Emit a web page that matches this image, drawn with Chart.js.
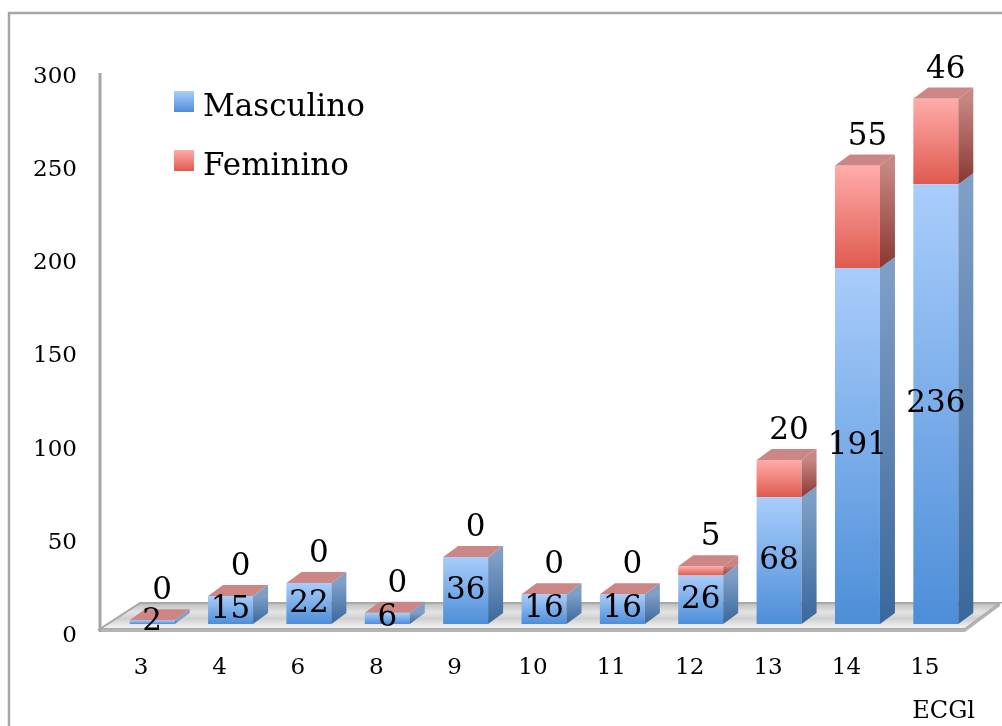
<!DOCTYPE html>
<html>
<head>
<meta charset="utf-8">
<script src="https://cdn.jsdelivr.net/npm/chart.js@4/dist/chart.umd.min.js"></script>
<style>
  html, body { margin: 0; padding: 0; background: #fff; }
  #wrap { width: 1002px; height: 726px; position: relative; }
</style>
</head>
<body>
<div id="wrap"><canvas id="c" width="1002" height="726"></canvas></div>
<script>
// ECGl score categories and counts per sex
const categories = ['3', '4', '6', '8', '9', '10', '11', '12', '13', '14', '15'];
const masculino  = [2, 15, 22, 6, 36, 16, 16, 26, 68, 191, 236];
const feminino   = [0, 0, 0, 0, 0, 0, 0, 5, 20, 55, 46];
const yTicks     = [0, 50, 100, 150, 200, 250, 300];

const SERIF = "'DejaVu Serif', serif";
const DEPTH_X = 15, DEPTH_Y = -11;

const palette = {
  blue: { front: ['#a9cdfb', '#4d8ed8'], side: ['#7f9fc6', '#3a679c'] },
  red:  { front: ['#ffacab', '#df5a4e'], side: ['#c78682', '#8a3732'], top: '#cd8686' }
};

// Vertical gradient for one stacked segment, computed from the value scale
function frontFill(ctx, colors) {
  const chart = ctx.chart;
  const y = chart.scales && chart.scales.y;
  if (!chart.chartArea || !y || ctx.dataIndex === undefined) return colors[1];
  const sets = chart.data.datasets;
  let lo = 0;
  for (let k = 0; k < ctx.datasetIndex; k++) lo += sets[k].data[ctx.dataIndex];
  const hi = lo + sets[ctx.datasetIndex].data[ctx.dataIndex];
  const top = y.getPixelForValue(hi), bot = y.getPixelForValue(lo);
  if (bot - top < 1) return colors[1];
  const g = chart.ctx.createLinearGradient(0, top, 0, bot);
  g.addColorStop(0, colors[0]);
  g.addColorStop(1, colors[1]);
  return g;
}

// Frame, floor and value axis line behind the bars
const backdrop = {
  id: 'backdrop',
  beforeDraw(chart) {
    const c = chart.ctx;
    c.save();
    c.fillStyle = '#fff';
    c.fillRect(0, 0, chart.width, chart.height);
    c.strokeStyle = '#a6a6a6';
    c.lineWidth = 2.5;
    c.strokeRect(9, 13, 1010, 730);
    c.restore();
  },
  beforeDatasetsDraw(chart) {
    const c = chart.ctx, a = chart.chartArea;
    const y0 = chart.scales.y.getPixelForValue(0);
    const fl = a.left - 13, fr = a.right - 10, bl = a.left + 27, br = a.right + 25;
    const fy = y0 + 5, by = y0 - 21;
    c.save();
    // floor top surface
    const g = c.createLinearGradient(0, by, 0, fy);
    g.addColorStop(0, '#bcbcbc');
    g.addColorStop(0.35, '#e4e4e4');
    g.addColorStop(0.6, '#cfcfcf');
    g.addColorStop(1, '#f7f7f7');
    c.beginPath();
    c.moveTo(fl, fy); c.lineTo(fr, fy); c.lineTo(br, by); c.lineTo(bl, by); c.closePath();
    c.fillStyle = g; c.fill();
    c.strokeStyle = '#a8a8a8'; c.lineWidth = 2; c.stroke();
    // floor front edge
    c.beginPath();
    c.moveTo(fl, fy); c.lineTo(fr, fy); c.lineTo(br, by); c.lineTo(br, by + 3); c.lineTo(fr, fy + 3); c.lineTo(fl, fy + 3); c.closePath();
    c.fillStyle = '#b4b4b4'; c.fill();
    // value axis line
    c.beginPath();
    c.moveTo(fl, a.top + 8); c.lineTo(fl, fy + 3);
    c.strokeStyle = '#a6a6a6'; c.lineWidth = 3; c.stroke();
    c.restore();
  }
};

// Side and top faces of each bar, then the value labels
const depthFaces = {
  id: 'depthFaces',
  afterDatasetsDraw(chart) {
    const c = chart.ctx;
    const metas = [chart.getDatasetMeta(0), chart.getDatasetMeta(1)];
    const sides = [palette.blue.side, palette.red.side];
    c.save();
    metas.forEach((meta, di) => {
      meta.data.forEach(bar => {
        const p = bar.getProps(['x', 'y', 'base', 'width'], true);
        const right = p.x + p.width / 2, left = p.x - p.width / 2;
        if (p.base - p.y > 0.5) {
          const g = c.createLinearGradient(0, p.y, 0, p.base);
          g.addColorStop(0, sides[di][0]);
          g.addColorStop(1, sides[di][1]);
          c.beginPath();
          c.moveTo(right, p.y); c.lineTo(right + DEPTH_X, p.y + DEPTH_Y);
          c.lineTo(right + DEPTH_X, p.base + DEPTH_Y); c.lineTo(right, p.base);
          c.closePath(); c.fillStyle = g; c.fill();
        }
        if (di === 1) {
          c.beginPath();
          c.moveTo(left, p.y); c.lineTo(right, p.y);
          c.lineTo(right + DEPTH_X, p.y + DEPTH_Y); c.lineTo(left + DEPTH_X, p.y + DEPTH_Y);
          c.closePath(); c.fillStyle = palette.red.top; c.fill();
        }
      });
    });
    // value labels
    c.fillStyle = '#000';
    c.font = '31px ' + SERIF;
    c.textAlign = 'center';
    c.textBaseline = 'middle';
    metas[0].data.forEach((bar, i) => {
      const p = bar.getProps(['x', 'y', 'base'], true);
      c.fillText(String(masculino[i]), p.x, (p.y + p.base) / 2);
    });
    metas[1].data.forEach((bar, i) => {
      const p = bar.getProps(['x', 'y'], true);
      c.fillText(String(feminino[i]), p.x + 10, p.y - 29);
    });
    c.restore();
  }
};

// Legend drawn inside the plot, upper left
const insideLegend = {
  id: 'insideLegend',
  afterDraw(chart) {
    const c = chart.ctx;
    const items = [[chart.data.datasets[0].label, palette.blue.front], [chart.data.datasets[1].label, palette.red.front]];
    c.save();
    items.forEach(([label, cols], k) => {
      const top = 91 + k * 59;
      const g = c.createLinearGradient(0, top, 0, top + 21);
      g.addColorStop(0, cols[0]); g.addColorStop(1, cols[1]);
      c.fillStyle = g;
      c.fillRect(174, top, 20, 21);
      c.fillStyle = '#000';
      c.font = '31px ' + SERIF;
      c.textAlign = 'left';
      c.textBaseline = 'alphabetic';
      c.fillText(label, 203, top + 25);
    });
    c.restore();
  }
};

new Chart(document.getElementById('c'), {
  type: 'bar',
  data: {
    labels: categories,
    datasets: [
      { label: 'Masculino', data: masculino, backgroundColor: ctx => frontFill(ctx, palette.blue.front), borderWidth: 0 },
      { label: 'Feminino',  data: feminino,  backgroundColor: ctx => frontFill(ctx, palette.red.front),  borderWidth: 0 }
    ]
  },
  options: {
    responsive: false,
    animation: false,
    events: [],
    layout: { padding: { left: 32, right: 27, top: 65, bottom: 0 } },
    datasets: { bar: { barPercentage: 0.574, categoryPercentage: 1 } },
    plugins: { legend: { display: false }, tooltip: { enabled: false } },
    scales: {
      x: {
        stacked: true,
        afterFit: scale => { scale.height = 102; },
        grid: { display: false, drawTicks: false },
        border: { display: false },
        ticks: { color: '#000', font: { family: SERIF, size: 23 }, padding: 30, labelOffset: -11 },
        title: { display: true, text: 'ECGl', align: 'end', color: '#000', font: { family: SERIF, size: 24 }, padding: { top: 14, bottom: 0 } }
      },
      y: {
        stacked: true,
        min: 0,
        max: 300,
        afterBuildTicks: scale => { scale.ticks = yTicks.map(v => ({ value: v })); },
        afterFit: scale => { scale.width = 81; },
        grid: { display: false, drawTicks: false },
        border: { display: false },
        ticks: { color: '#000', font: { family: SERIF, size: 23 }, padding: 36, labelOffset: 12 }
      }
    }
  },
  plugins: [backdrop, depthFaces, insideLegend]
});
</script>
</body>
</html>
